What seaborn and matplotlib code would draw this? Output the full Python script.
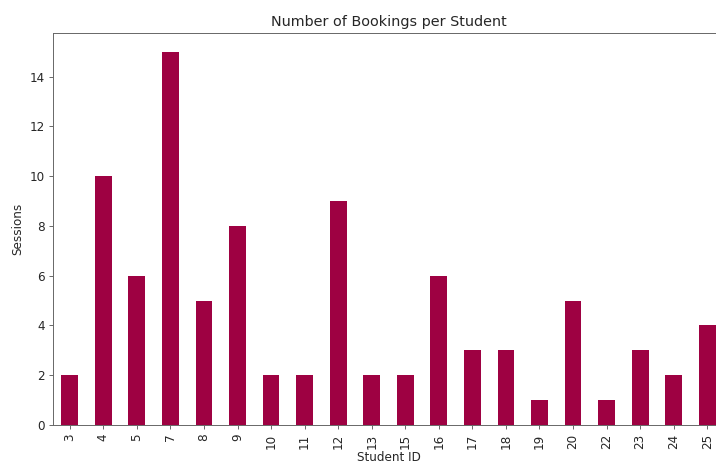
import matplotlib
matplotlib.use("Agg")
import matplotlib.pyplot as plt
import seaborn as sns
import pandas as pd

student_ids = ["3", "4", "5", "7", "8", "9", "10", "11", "12", "13",
               "15", "16", "17", "18", "19", "20", "22", "23", "24", "25"]
sessions = [2, 10, 6, 15, 5, 8, 2, 2, 9, 2, 2, 6, 3, 3, 1, 5, 1, 3, 2, 4]

df = pd.DataFrame({"Student ID": student_ids, "Sessions": sessions})

dpi = 86.4
W, H = 716, 464
fig = plt.figure(figsize=(W / dpi, H / dpi), dpi=dpi)
ax = fig.add_axes([53 / W, (H - 425) / H, (724 - 53) / W, (425 - 33) / H])

sns.barplot(data=df, x="Student ID", y="Sessions", order=student_ids,
            color="#9e0142", saturation=1, width=0.5, ax=ax)

ax.set_xlim(-0.5, len(student_ids) - 0.5)
ax.set_ylim(0, 15.75)
ax.set_yticks(range(0, 15, 2))
ax.tick_params(axis="x", labelrotation=90)
ax.set_title("Number of Bookings per Student", fontsize=12, color="#262626")
ax.set_xlabel("Student ID", fontsize=10, color="#262626", labelpad=2)
ax.set_ylabel("Sessions", fontsize=10, color="#262626")
for s in ax.spines.values():
    s.set_color("#666666")
ax.tick_params(colors="#666666", labelcolor="#262626", labelsize=10)

fig.savefig("out.png", dpi=dpi)
